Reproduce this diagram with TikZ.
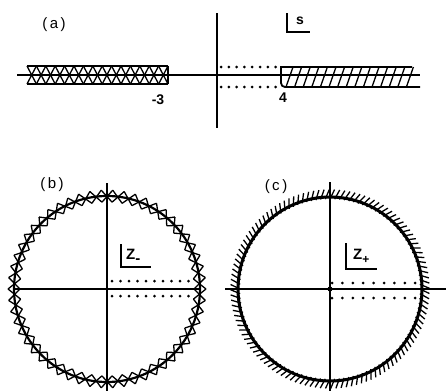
\documentclass[tikz,border=0pt]{standalone}
\usepackage{fontspec}
\setmainfont{Liberation Sans}
\begin{document}
\begin{tikzpicture}[x=1pt,y=-1pt,
  axis/.style={line width=1.2pt},
  cut/.style={line width=1.8pt},
  thin/.style={line width=1.3pt},
  dotmark/.style={fill=black},
  lbl/.style={font=\bfseries\fontsize{14}{14}\selectfont, inner sep=0pt},
  plbl/.style={font=\fontsize{15}{15}\selectfont, inner sep=0pt}]
\useasboundingbox (0,0) rectangle (446,391);
\fill[white] (0,0) rectangle (446,391);

% ---------- panel (a) ----------
\draw[axis] (17,75) -- (420,75);
\draw[axis] (217,13) -- (217,128);
% left cut
\draw[cut] (27,66) -- (168,66) (27,84) -- (168,84) (168,66) -- (168,84);
\foreach \k in {0,...,14} {
  \draw[thin] ({27+\k*9.4},66) -- ({27+(\k+1)*9.4},84);
  \draw[thin] ({27+\k*9.4},84) -- ({27+(\k+1)*9.4},66);
}
% right cut
\draw[cut] (412,67) -- (281,67) -- (281,83) to[out=-90,in=180] (285,87) -- (420,87);
\foreach \k in {0,...,14} {
  \draw[thin] ({286+\k*8.6},87) -- ({293+\k*8.6},67);
}
% dots
\foreach \i in {0,...,7} {
  \fill[dotmark] ({221+\i*7.8},67) circle (1.5pt);
  \fill[dotmark] ({221+\i*7.8},87) circle (1.5pt);
}
\node[plbl] (la) at (54,25) {(\,a\,)};
\node[lbl] (mA) at (158,100) {-3};
\node[lbl] (mB) at (283,98) {4};
\node[lbl] (sl) at (300,21) {s};
\draw[thin] (287,13) -- (287,32) -- (310,32);

% ---------- panel (b) ----------
\draw[axis] (107,183) -- (107,391);
\draw[axis] (14,289) -- (200,289);
\begin{scope}[shift={(107,289)}]
  \draw[line width=2.2pt] (0,0) circle (93pt);
  \foreach \k in {0,...,53} {
    \pgfmathsetmacro{\aa}{\k*6.666667}
    \pgfmathsetmacro{\ab}{(\k+1)*6.666667}
    \draw[thin] (\aa:99pt) -- (\ab:87pt);
    \draw[thin] (\aa:87pt) -- (\ab:99pt);
  }
\end{scope}
\foreach \i in {0,...,9} {
  \fill[dotmark] ({112+\i*8.5},281) circle (1.5pt);
  \fill[dotmark] ({112+\i*8.5},296) circle (1.5pt);
}
\node[plbl] (lb) at (52,185) {(\,b\,)};
\draw[thin] (121,244) -- (121,267) -- (151,267);
\node[lbl, anchor=west, font=\bfseries\fontsize{15}{15}\selectfont] (zm) at (126,256) {Z\raisebox{-4pt}{-}};

% ---------- panel (c) ----------
\draw[axis] (330,182) -- (330,391);
\draw[axis] (225,289) -- (446,289);
\begin{scope}[shift={(330,289)}]
  \draw[line width=3pt] (0,0) circle (92pt);
  \foreach \i in {0,...,119} {
    \pgfmathsetmacro{\ta}{\i*3}
    \pgfmathsetmacro{\tb}{\i*3-2.6}
    \draw[thin] (\ta:90pt) -- (\tb:99.5pt);
  }
\end{scope}
\fill (330,289) circle (2.5pt);
\foreach \i in {0,...,8} {
  \fill[dotmark] ({332+\i*10.4},283) circle (1.5pt);
  \fill[dotmark] ({332+\i*10.4},298) circle (1.5pt);
}
\node[plbl] (lc) at (276,187) {(\,c\,)};
\draw[thin] (346,243) -- (346,269) -- (377,269);
\node[lbl, anchor=west, font=\bfseries\fontsize{15}{15}\selectfont] (zp) at (353,256) {Z\raisebox{-4pt}{\fontsize{12}{12}\selectfont +}};
\end{tikzpicture}
\end{document}
